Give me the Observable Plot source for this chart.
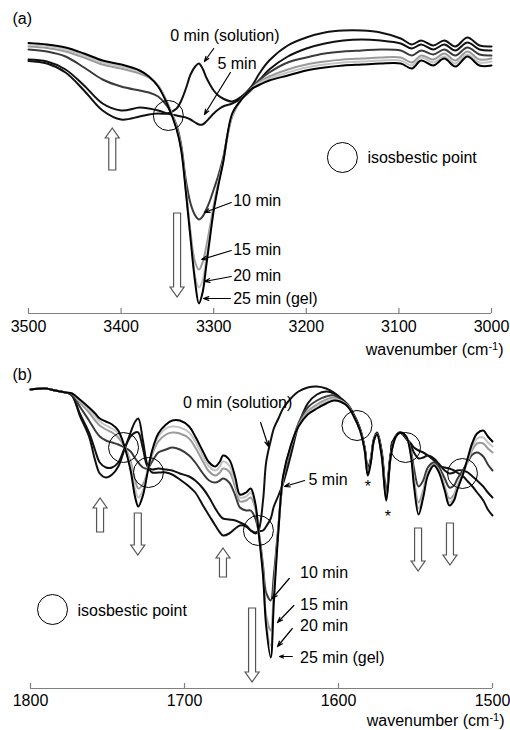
<!DOCTYPE html>
<html><head><meta charset="utf-8">
<script src="https://cdn.jsdelivr.net/npm/d3@7"></script>
<script src="https://cdn.jsdelivr.net/npm/@observablehq/plot@0.6"></script>
<style>
body{margin:0;background:#fff;}
#chart{width:510px;height:730px;}
#chart svg{display:block;}
</style></head><body><div id="chart"></div>
<script>
const FONT = 'Arial, "Liberation Sans", Helvetica, sans-serif';
const SERIES = ["0 min (solution)", "5 min", "10 min", "15 min", "20 min", "25 min (gel)"];
const COLORS = ["#111111", "#111111", "#3a3a3a", "#9a9a9a", "#c4c4c4", "#000000"];
const AXIS_LABEL = "wavenumber (cm-1)";

// ---------- panel (a): 3500-3000 cm-1 ----------
const WN_A = [3500, 3480, 3460, 3440, 3420, 3400, 3380, 3370, 3360, 3350, 3340, 3335, 3330, 3325, 3320, 3316, 3312, 3308, 3304, 3300, 3295, 3290, 3280, 3270, 3260, 3250, 3240, 3220, 3200, 3180, 3160, 3140, 3120, 3098, 3086, 3076, 3063, 3051, 3039, 3026, 3013, 3000];
const A_0  = [252.5, 250, 241, 223, 203, 194, 197, 199, 200, 200, 205, 213, 225, 239, 247, 250, 245, 236, 229, 223, 218, 215, 212, 217, 226, 241, 253, 268, 276, 281, 283, 283, 281, 275, 269, 273, 268, 273, 267, 276, 268, 267];
const A_5  = [254, 252, 244, 228, 210, 203, 206, 205, 203, 200, 198, 197, 196, 194, 191, 189, 189, 192, 196, 200, 204, 207, 210, 215, 223, 234, 244, 257, 265, 270, 273, 274, 273, 270, 265, 269, 264, 269, 263, 271, 264, 263];
const A_10 = [264, 262, 257, 246, 234, 227, 223, 221, 217, 207, 188, 168, 133, 110, 98, 94, 97, 104, 113, 124, 138, 155, 198, 215, 225, 234, 241, 251, 256, 260, 262, 263, 264, 263, 258, 263, 259, 264, 258, 266, 259, 258];
const A_15 = [267, 265.5, 262, 256, 249, 245, 240, 236, 228, 211, 186, 165, 125, 81, 51, 44, 51, 67, 87, 108, 131, 151, 197, 214, 224, 232, 237, 244, 249, 252, 254, 255, 256, 256, 251, 258, 254, 260, 253, 262, 254, 255];
const A_20 = [269, 267.5, 264, 258, 251, 247, 242, 237, 228, 210, 185, 164, 123, 77, 37, 26, 33, 55, 80, 105, 130, 151, 199, 214, 224, 231, 235, 241, 246, 249, 251, 252, 253, 253, 248, 256, 251, 257, 250, 259, 251, 252];
const A_25 = [270.5, 269, 266, 260, 253, 249, 243, 237, 227, 209, 184, 163, 121, 75, 31, 10, 21, 48, 76, 103, 128, 150, 200, 214, 224, 229, 233, 238, 243, 246, 248, 249, 250, 250, 245, 253, 248, 255, 247, 257, 248, 248];
const TICKS_A = [3500, 3400, 3300, 3200, 3100, 3000];

// ---------- panel (b): 1800-1500 cm-1 ----------
const WN_B = [1800, 1790, 1784, 1777, 1773, 1768, 1762, 1758, 1755, 1751, 1747, 1743, 1739, 1735, 1732, 1730, 1727, 1724, 1721, 1717, 1712, 1708, 1703, 1697, 1693, 1688, 1684, 1680, 1677, 1675, 1671, 1667, 1664, 1660, 1657, 1654, 1652, 1649, 1647, 1644, 1642, 1639, 1636, 1631, 1626, 1620, 1614, 1608, 1603, 1599, 1594, 1590, 1586, 1583, 1581, 1579, 1577, 1575, 1572, 1569, 1566, 1563, 1560, 1556, 1553, 1551, 1548, 1545, 1542, 1538, 1535, 1531, 1528, 1525, 1523, 1519, 1516, 1513, 1510, 1506, 1503, 1500];
const B_0 = [299, 300, 298, 296, 293, 273, 252, 228, 215, 211, 214, 222, 239, 256, 267, 270, 248, 223, 216, 216, 216, 214, 209, 202, 196, 183, 173, 163, 156, 153, 155, 160, 163, 162, 158, 156, 158, 188, 226, 248, 260, 270, 280, 290, 297, 301, 302, 300, 296, 291, 284, 274, 260, 241, 220, 230, 250, 256, 238, 196, 236, 252, 256, 250, 245, 241, 238, 236, 233, 228, 223, 221, 220, 218, 216, 212, 207, 202, 196, 188, 179, 173];
const B_5 = [299, 300, 298, 296, 293, 275, 256, 238, 226, 221, 221, 226, 240, 252, 256, 256, 240, 222, 219, 220, 219, 218, 215, 212, 208, 200, 191, 180, 173, 170, 169, 168, 166, 163, 158, 155, 157, 158, 162, 170, 182, 193, 205, 233, 263, 285, 294, 297, 295, 290, 283, 273, 259, 240, 218, 229, 249, 255, 236, 194, 235, 252, 256, 250, 243, 236, 230, 231, 233, 230, 225, 218, 215, 216, 218, 218, 216, 212, 208, 202, 196, 191];
const B_10 = [299, 300, 298, 296, 294, 282, 268, 258, 252, 248, 246, 244, 241, 237, 230, 226, 221, 220, 227, 236, 239, 241, 239, 233, 226, 215, 208, 206, 208, 210, 206, 193, 181, 178, 178, 170, 158, 123, 96, 88, 113, 163, 208, 240, 265, 281, 288, 292, 293, 289, 283, 273, 259, 240, 217, 228, 248, 255, 235, 192, 234, 252, 256, 251, 238, 220, 202, 208, 221, 226, 222, 210, 201, 203, 209, 219, 227, 234, 236, 232, 224, 218];
const B_15 = [299, 300, 298, 296, 295, 286, 276, 268, 263, 259, 256, 251, 242, 227, 208, 200, 204, 217, 234, 247, 254, 256, 255, 250, 241, 227, 217, 213, 216, 220, 217, 201, 187, 188, 191, 180, 158, 117, 73, 58, 98, 160, 210, 242, 263, 277, 284, 289, 291, 288, 283, 272, 258, 239, 215, 227, 248, 254, 234, 190, 233, 251, 256, 252, 235, 210, 186, 198, 216, 224, 219, 202, 190, 194, 202, 216, 228, 239, 245, 245, 240, 236];
const B_20 = [299, 300, 298, 296, 295, 288, 279, 272, 267, 263, 260, 255, 242, 223, 199, 191, 198, 218, 237, 252, 260, 262, 261, 256, 247, 232, 222, 218, 222, 227, 223, 206, 191, 192, 196, 183, 158, 115, 68, 43, 92, 159, 211, 242, 262, 275, 282, 287, 289, 288, 282, 272, 258, 238, 214, 227, 248, 254, 233, 189, 233, 251, 256, 252, 234, 207, 180, 194, 214, 223, 218, 200, 186, 191, 200, 215, 229, 242, 250, 251, 246, 242];
const B_25 = [299, 300, 298, 296, 295, 289, 281, 275, 270, 267, 264, 258, 242, 218, 191, 182, 193, 216, 238, 255, 264, 268, 268, 262, 252, 237, 226, 222, 227, 233, 229, 211, 194, 196, 200, 185, 158, 113, 63, 31, 86, 158, 212, 243, 262, 274, 280, 285, 288, 287, 282, 272, 258, 238, 213, 226, 248, 254, 233, 188, 233, 251, 256, 252, 233, 203, 174, 191, 213, 223, 217, 198, 183, 188, 198, 215, 231, 246, 255, 258, 252, 247];
const TICKS_B = [1800, 1700, 1600, 1500];

// ---------- annotations ----------
const LABELS_A = [
  {wn: 3347, t: 278, text: "0 min (solution)"},
  {wn: 3296, t: 250, text: "5 min"},
  {wn: 3279, t: 113, text: "10 min"},
  {wn: 3279, t: 64, text: "15 min"},
  {wn: 3279, t: 38, text: "20 min"},
  {wn: 3279, t: 15, text: "25 min (gel)"},
  {wn: 3134, t: 156, text: "isosbestic point"}
];
const POINTERS_A = [
  {wn1: 3300, t1: 265, wn2: 3310, t2: 252},
  {wn1: 3282, t1: 241, wn2: 3310, t2: 199},
  {wn1: 3281, t1: 111, wn2: 3310, t2: 101},
  {wn1: 3281, t1: 63, wn2: 3313, t2: 54},
  {wn1: 3281, t1: 37, wn2: 3310, t2: 32},
  {wn1: 3282, t1: 15, wn2: 3311, t2: 15}
];
const CIRCLES_A = [{wn: 3349, t: 198}, {wn: 3161, t: 156}];
const BLOCKS_A = [{wn: 3409, from: 143, to: 185}, {wn: 3339, from: 100, to: 16}];

const LABELS_B = [
  {wn: 1701, t: 286, text: "0 min (solution)"},
  {wn: 1619.5, t: 209, text: "5 min"},
  {wn: 1625, t: 116, text: "10 min"},
  {wn: 1625, t: 84, text: "15 min"},
  {wn: 1625, t: 63, text: "20 min"},
  {wn: 1625, t: 31, text: "25 min (gel)"},
  {wn: 1769.5, t: 78, text: "isosbestic point"}
];
const POINTERS_B = [
  {wn1: 1650.6, t1: 266, wn2: 1645.5, t2: 242},
  {wn1: 1622, t1: 208, wn2: 1635, t2: 202},
  {wn1: 1632, t1: 110, wn2: 1643, t2: 90},
  {wn1: 1629, t1: 83, wn2: 1639.6, t2: 66},
  {wn1: 1630, t1: 60, wn2: 1639.6, t2: 42},
  {wn1: 1630, t1: 32, wn2: 1638.3, t2: 32}
];
const CIRCLES_B = [{wn: 1739.6, t: 241}, {wn: 1723.4, t: 216}, {wn: 1652, t: 158}, {wn: 1588, t: 263}, {wn: 1556.5, t: 241}, {wn: 1519.5, t: 215}, {wn: 1785.7, t: 79}];
const STARS_B = [{wn: 1581, t: 206}, {wn: 1568, t: 176}];
const BLOCKS_B = [
  {wn: 1754.5, from: 156, to: 190}, {wn: 1730, from: 175, to: 133},
  {wn: 1674.7, from: 111, to: 140}, {wn: 1655.8, from: 80, to: 6},
  {wn: 1548, from: 160, to: 117}, {wn: 1527.3, from: 165, to: 123}
];

function rows(wn, arrays) {
  const out = [];
  arrays.forEach((arr, i) => arr.forEach((t, j) => out.push({wn: wn[j], t, series: SERIES[i]})));
  return out;
}

function panel(cfg) {
  const svg = Plot.plot({
    width: 510, height: cfg.height,
    marginLeft: cfg.ml, marginRight: cfg.mr, marginTop: cfg.mt, marginBottom: cfg.mb,
    x: {domain: cfg.domain},
    y: {domain: cfg.ydomain, axis: null},
    color: {domain: SERIES, range: COLORS},
    style: {fontFamily: FONT, fontSize: "16px", color: "#000", background: "#fff", overflow: "visible"},
    marks: [
      Plot.ruleY([0], {stroke: "#808080", strokeWidth: 1.2}),
      Plot.ruleX(cfg.ticks, {y1: 0, y2: 5, stroke: "#808080", strokeWidth: 1.2}),
      Plot.axisX(cfg.ticks, {tickFormat: "d", tickSize: 0, tickPadding: cfg.pad, fontSize: 16, label: null}),
      Plot.line(rows(cfg.wn, cfg.series), {x: "wn", y: "t", z: "series", stroke: "series", strokeWidth: 2, curve: "catmull-rom"}),
      Plot.dot(cfg.circles, {x: "wn", y: "t", r: 15, stroke: "#000", fill: "none", strokeWidth: 1}),
      Plot.text(cfg.labels, {x: "wn", y: "t", text: "text", textAnchor: "start", fontSize: 16, fill: "#000"}),
      Plot.arrow(cfg.pointers, {x1: "wn1", y1: "t1", x2: "wn2", y2: "t2", headLength: 7, headAngle: 40, strokeWidth: 1.2, stroke: "#000"}),
      Plot.text(cfg.stars || [], {x: "wn", y: "t", text: () => "*", fontSize: 16, dy: 4, fill: "#000"}),
      Plot.text([cfg.tag], {frameAnchor: "top-left", text: d => d, textAnchor: "start", lineAnchor: "middle", dx: cfg.tagDx, dy: cfg.tagDy, fontSize: 16}),
      Plot.text([AXIS_LABEL], {frameAnchor: "bottom-right", text: d => d, textAnchor: "end", lineAnchor: "middle", dx: 12, dy: cfg.labDy, fontSize: 16})
    ]
  });
  // hollow block arrows, positioned through the plot's own scales
  const sx = svg.scale("x"), sy = svg.scale("y");
  const g = d3.select(svg).append("g");
  for (const a of cfg.blocks) {
    const x = sx.apply(a.wn), yb = sy.apply(a.from), yt = sy.apply(a.to);
    const dir = yt < yb ? -1 : 1, head = 10, sw = 3.5, hw = 7;
    const yh = yt - dir * head;
    const pts = [[x - sw, yb], [x - sw, yh], [x - hw, yh], [x, yt], [x + hw, yh], [x + sw, yh], [x + sw, yb]];
    g.append("path").attr("d", "M" + pts.map(p => p.join(",")).join("L") + "Z")
      .attr("fill", "#fff").attr("stroke", "#555").attr("stroke-width", 1.2);
  }
  // superscript in the axis label
  svg.querySelectorAll("text").forEach(t => {
    if (t.textContent === AXIS_LABEL) {
      t.textContent = "";
      const ns = "http://www.w3.org/2000/svg";
      const a = document.createElementNS(ns, "tspan"); a.textContent = "wavenumber (cm";
      const b = document.createElementNS(ns, "tspan"); b.textContent = "-1"; b.setAttribute("dy", "-5"); b.setAttribute("font-size", "11");
      const c = document.createElementNS(ns, "tspan"); c.textContent = ")"; c.setAttribute("dy", "5");
      t.append(a, b, c);
    }
  });
  return svg;
}

const chart = document.getElementById("chart");
chart.append(panel({
  height: 360, ml: 28, mr: 19, mt: 13, mb: 47, domain: [3500, 3000], ydomain: [0, 300],
  wn: WN_A, series: [A_0, A_5, A_10, A_15, A_20, A_25], ticks: TICKS_A, pad: 7,
  labels: LABELS_A, pointers: POINTERS_A, circles: CIRCLES_A, blocks: BLOCKS_A,
  tag: "(a)", tagDx: -16, tagDy: 5, labDy: 36
}));
chart.append(panel({
  height: 370, ml: 30, mr: 18, mt: 18, mb: 42, domain: [1800, 1500], ydomain: [0, 310],
  wn: WN_B, series: [B_0, B_5, B_10, B_15, B_20, B_25], ticks: TICKS_B, pad: 6,
  labels: LABELS_B, pointers: POINTERS_B, circles: CIRCLES_B, stars: STARS_B, blocks: BLOCKS_B,
  tag: "(b)", tagDx: -18, tagDy: -4, labDy: 32
}));
</script></body></html>
